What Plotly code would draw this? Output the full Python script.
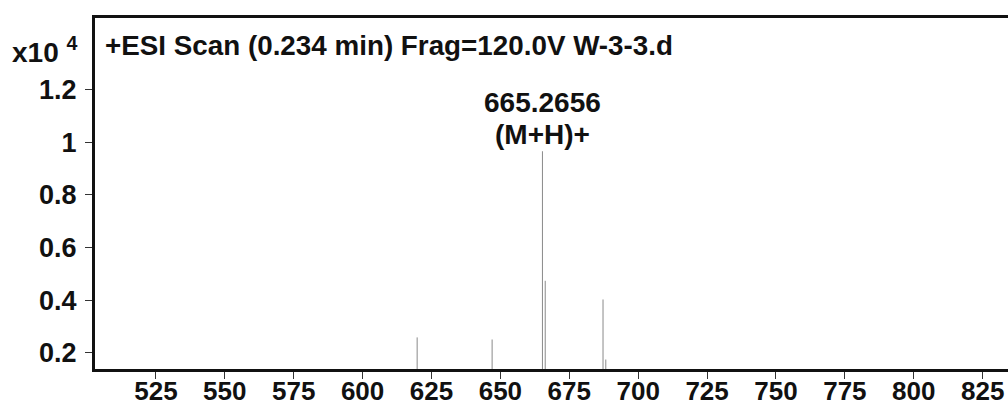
import plotly.graph_objects as go

# Peak data (m/z, abundance x10^4)
mz = [619.8, 647.0, 665.2656, 666.27, 687.25, 688.25]
abundance = [0.259, 0.251, 0.966, 0.474, 0.403, 0.175]

x_ticks = [525, 550, 575, 600, 625, 650, 675, 700, 725, 750, 775, 800, 825]
y_ticks = [0.2, 0.4, 0.6, 0.8, 1.0, 1.2]
y_tick_text = ["0.2", "0.4", "0.6", "0.8", "1", "1.2"]

title_text = "+ESI Scan (0.234 min) Frag=120.0V W-3-3.d"
peak_label = "665.2656"
peak_ion = "(M+H)+"

xs, ys = [], []
for m, a in zip(mz, abundance):
    xs += [m, m, None]
    ys += [0, a, None]

FAM = "Liberation Sans, Arial, sans-serif"

fig = go.Figure()
fig.add_trace(go.Scatter(x=xs, y=ys, mode="lines",
                         line=dict(color="#8a8a8a", width=1),
                         hoverinfo="skip", showlegend=False))

fig.update_layout(
    width=1008, height=406,
    margin=dict(l=95, r=0, t=18, b=37),
    paper_bgcolor="white", plot_bgcolor="white",
    showlegend=False,
    font=dict(family=FAM, size=24, color="#111"),
    xaxis=dict(range=[502.9, 834.2], tickvals=x_ticks, ticktext=[str(v) for v in x_ticks],
               showgrid=False, zeroline=False, showline=True, linecolor="#111", linewidth=3,
               mirror=True, ticks="outside", ticklen=7, tickwidth=1, tickcolor="#333",
               tickfont=dict(family=FAM, size=26, color="#111", weight="bold"),
               ticklabelstandoff=-10, automargin=False),
    yaxis=dict(range=[0.139, 1.472], tickvals=y_ticks, ticktext=y_tick_text,
               showgrid=False, zeroline=False, showline=True, linecolor="#111", linewidth=3,
               mirror=False, ticks="outside", ticklen=7, tickwidth=1, tickcolor="#333",
               tickfont=dict(family=FAM, size=27, color="#111", weight="bold"),
               ticklabelstandoff=3, automargin=False),
)

fig.add_annotation(text=title_text, xref="paper", yref="paper", x=0.0088, y=0.923,
                   xanchor="left", yanchor="middle", showarrow=False,
                   font=dict(family=FAM, size=27.8, color="#111", weight="bold"))
fig.add_annotation(text="x10 <sup>4</sup>", xref="paper", yref="paper", x=-0.0931, y=0.91,
                   xanchor="left", yanchor="middle", showarrow=False,
                   font=dict(family=FAM, size=28, color="#111", weight="bold"))
fig.add_annotation(text=peak_label, x=mz[2], y=abundance[2], xref="x", yref="y",
                   yanchor="bottom", yshift=31, showarrow=False,
                   font=dict(family=FAM, size=28, color="#111", weight="bold"))
fig.add_annotation(text=peak_ion, x=mz[2], y=abundance[2], xref="x", yref="y",
                   yanchor="bottom", yshift=-1, showarrow=False,
                   font=dict(family=FAM, size=28, color="#111", weight="bold"))

fig.write_html("out.html", config={"displayModeBar": False},
               post_script="document.body.style.margin='0';")
